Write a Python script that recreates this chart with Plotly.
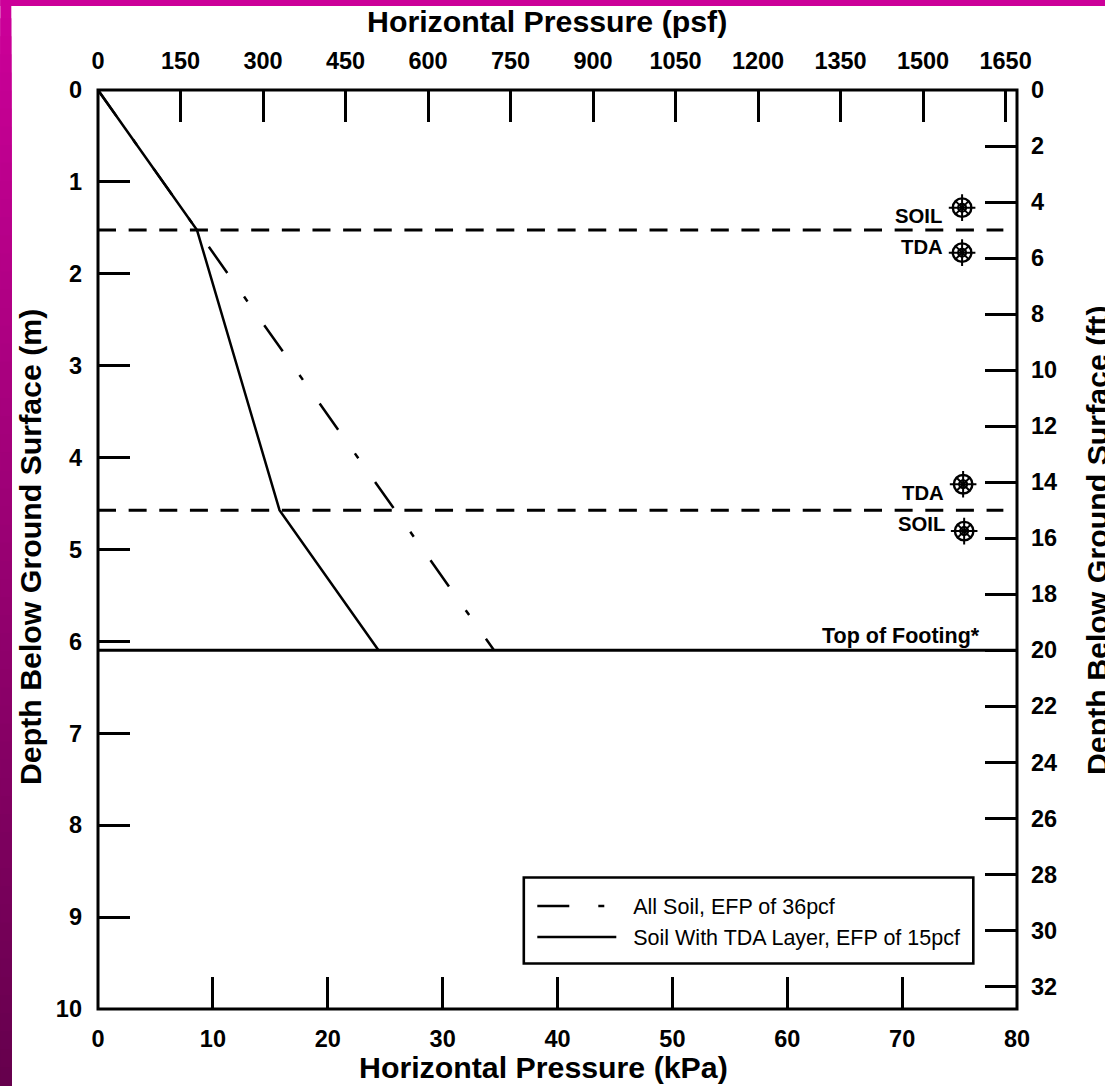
import plotly.graph_objects as go

# Data
depth_ft = [0, 5, 15, 20]
all_soil_psf = [0, 180, 540, 720]
tda_psf = [0, 180, 330, 510]
interface_ft = [5, 15]
interface_psf = [0, 1646]
footing_m = 6.096
footing_kpa = [0, 80]
gauge_kpa = [75.22, 75.22, 75.31, 75.4]
gauge_m = [1.28, 1.77, 4.29, 4.80]

kpa_ticks = [0, 10, 20, 30, 40, 50, 60, 70, 80]
psf_ticks = [0, 150, 300, 450, 600, 750, 900, 1050, 1200, 1350, 1500, 1650]
m_ticks = [0, 1, 2, 3, 4, 5, 6, 7, 8, 9, 10]
ft_ticks = list(range(0, 33, 2))
labels = [("SOIL", 73.65, 1.37), ("TDA", 73.75, 1.707), ("TDA", 73.8, 4.39), ("SOIL", 73.9, 4.72),
          ("Top of Footing*", 76.95, 5.94)]

W, H = 1105, 1086
L, R, T, B = 97.7, 1016.7, 90, 1009.5
PW, PH = R - L, B - T
FONT = "Liberation Sans, Arial, sans-serif"


def px(x):
    return (x - L) / PW


def py(y):
    return (B - y) / PH


def axis(standoff=8, **kw):
    base = dict(showgrid=False, zeroline=False, showline=False,
                ticks="inside", ticklen=32, tickwidth=2.5, tickcolor="black", ticklabelstandoff=standoff,
                tickfont=dict(family=FONT, size=23.5, color="black", weight="bold"))
    base.update(kw)
    return base


fig = go.Figure()
fig.add_trace(go.Scatter(x=all_soil_psf, y=depth_ft, xaxis="x2", yaxis="y2", mode="lines",
                         name="\u00a0\u00a0All Soil, EFP of 36pcf", legendgroup="a",
                         line=dict(color="black", width=2.5, dash="32px,29px,6px,29px")))
fig.add_trace(go.Scatter(x=tda_psf, y=depth_ft, xaxis="x2", yaxis="y2", mode="lines",
                         name="\u00a0\u00a0Soil With TDA Layer, EFP of 15pcf", legendgroup="b",
                         line=dict(color="black", width=2.5)))
for d in interface_ft:
    fig.add_trace(go.Scatter(x=interface_psf, y=[d, d], xaxis="x2", yaxis="y2", mode="lines",
                             showlegend=False,
                             line=dict(color="black", width=3, dash="18px,12.64px")))
fig.add_trace(go.Scatter(x=footing_kpa, y=[footing_m, footing_m], mode="lines", showlegend=False,
                         line=dict(color="black", width=3)))
for sym, size, lw in [("circle-open", 18.5, 2.4), ("circle-open", 8, 2),
                      ("cross-thin-open", 19, 2), ("x-thin-open", 14, 2)]:
    fig.add_trace(go.Scatter(x=gauge_kpa, y=gauge_m, mode="markers", showlegend=False,
                             marker=dict(symbol=sym, size=size, color="black",
                                         line=dict(color="black", width=lw))))

# Frame colour bars (shaded from top to bottom on the left edge)
shapes = []
N = 60
for i in range(N):
    f = i / (N - 1)
    c = f"rgb({round(204 - 102 * f)},0,{round(153 - 76 * f)})"
    shapes.append(dict(type="rect", xref="paper", yref="paper", layer="below", line_width=0, fillcolor=c,
                       x0=px(0), x1=px(11), y0=py(H), y1=py(H * i / N)))
shapes.append(dict(type="rect", xref="paper", yref="paper", layer="below", line_width=0,
                   fillcolor="rgb(204,0,153)", x0=px(0), x1=px(W), y0=py(6), y1=py(0)))
# Plot frame and legend box
shapes.append(dict(type="rect", xref="paper", yref="paper", layer="above", x0=0, x1=1, y0=0, y1=1,
                   line=dict(color="black", width=3)))
shapes.append(dict(type="rect", xref="paper", yref="paper", layer="above", x0=px(523.5), x1=px(973),
                   y0=py(964), y1=py(878), line=dict(color="black", width=2.6), fillcolor="white"))

ann = [dict(x=x, y=y, xref="x", yref="y", text=f"<b>{t}</b>", showarrow=False, xanchor="right",
            yanchor="middle", font=dict(family=FONT, size=20.3 if "Top" not in t else 21.5, color="black"))
       for t, x, y in labels]
for text, x, y, angle in [("Depth Below Ground Surface (m)", 30, 547, -90),
                          ("Depth Below Ground Surface (ft)", 1097, 540, -90),
                          ("Horizontal Pressure (psf)", 547, 21, 0),
                          ("Horizontal Pressure (kPa)", 543, 1068, 0)]:
    ann.append(dict(xref="paper", yref="paper", x=px(x), y=py(y), textangle=angle, text=f"<b>{text}</b>",
                    showarrow=False, xanchor="center", yanchor="middle",
                    font=dict(family=FONT, size=30.3, color="black")))

fig.update_layout(
    width=W, height=H, autosize=False, margin=dict(l=L, r=W - R, t=T, b=H - B),
    paper_bgcolor="white", plot_bgcolor="rgba(0,0,0,0)",
    xaxis=axis(standoff=13, range=[0, 80], tickvals=kpa_ticks, ticktext=[str(v) for v in kpa_ticks]),
    yaxis=axis(standoff=15, range=[10, 0], tickvals=m_ticks, ticktext=[str(v) for v in m_ticks]),
    xaxis2=axis(standoff=15, range=[0, 1670.8], overlaying="x", side="top", tickvals=psf_ticks,
                ticktext=[str(v) for v in psf_ticks]),
    yaxis2=axis(standoff=13, range=[32.808, 0], overlaying="y", side="right", tickvals=ft_ticks,
                ticktext=[str(v) for v in ft_ticks]),
    legend=dict(x=px(532), y=py(886), xanchor="left", yanchor="top", bgcolor="rgba(0,0,0,0)",
                borderwidth=0, itemwidth=79, tracegroupgap=0,
                font=dict(family=FONT, size=21.5, color="black")),
    shapes=shapes, annotations=ann,
)
fig.write_html("out.html", post_script="document.body.style.margin='0';document.body.style.overflow='hidden';",
               config=dict(displayModeBar=False))
